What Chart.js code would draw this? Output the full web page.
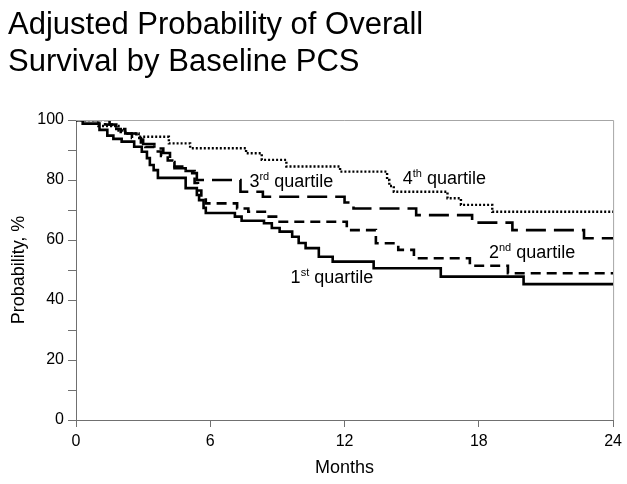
<!DOCTYPE html>
<html>
<head>
<meta charset="utf-8">
<script src="https://cdn.jsdelivr.net/npm/chart.js"></script>
<style>
  html, body { margin:0; padding:0; background:#fff; }
  #wrap { width:627px; height:484px; }
</style>
</head>
<body>
<div id="wrap"><canvas id="km"></canvas></div>
<script>
// Curvas (meses, %)
var q1Months = [0, 0.3, 1.05, 1.4, 1.67, 2.04, 2.6, 2.94, 3.17, 3.3, 3.47, 3.66, 4.9, 5.4, 5.5, 5.7, 5.8, 7.1, 7.4, 8.4, 8.75, 9.1, 9.66, 9.95, 10.26, 10.85, 11.47, 13.3, 16.3, 20.0, 24];
var q1Pct    = [100, 98.8, 96.7, 94.8, 93.7, 92.8, 91.1, 89.4, 87.3, 85, 83.3, 80.7, 77.3, 75, 73.3, 70.7, 69, 67.8, 66.4, 65.6, 64, 62.8, 61.1, 59, 57.3, 54.4, 52.8, 50.6, 47.8, 45.3, 45.3];

var q2Months = [0, 1.3, 1.6, 2.0, 2.5, 2.9, 3.1, 3.5, 3.8, 4.1, 4.4, 4.9, 5.3, 5.45, 5.6, 5.8, 7.2, 7.7, 8.5, 9.0, 12.1, 13.4, 14.4, 15.1, 17.6, 19.3, 24];
var q2Pct    = [100, 98.5, 97, 95.5, 94, 92.5, 91, 89.5, 88, 86.5, 84.5, 83, 79, 76.5, 74, 72.2, 70.5, 69.4, 67.8, 66.1, 63.3, 58.9, 56.7, 53.9, 51.4, 48.9, 48.9];

var q3Months = [0, 1.5, 1.8, 2.2, 2.7, 3.0, 3.5, 3.9, 4.2, 4.4, 4.9, 5.4, 7.35, 8.35, 12.0, 12.4, 15.2, 17.7, 19.5, 22.7, 24];
var q3Pct    = [100, 98.5, 97, 95.5, 93.5, 92, 90.5, 89, 86, 83.9, 82.3, 80, 76.1, 74.4, 72.5, 70.5, 68.3, 65.8, 63.3, 60.6, 60.6];

var q4Months = [0, 1.0, 1.9, 2.2, 2.8, 4.15, 5.1, 7.6, 8.3, 9.4, 11.8, 13.9, 14.0, 14.2, 16.6, 17.2, 18.6, 24];
var q4Pct    = [100, 98, 96.5, 95.5, 94.4, 92.2, 90.6, 88.9, 86.7, 84.5, 82.8, 80, 78, 76.1, 73.9, 71.7, 69.4, 69.4];

// Rótulos das curvas
var labelNum    = ["1", "2", "3", "4"];
var labelSuffix = ["st", "nd", "rd", "th"];
var labelMonth  = [9.59, 18.45, 7.75, 14.6];
var labelPct    = [45.8, 53.9, 77.7, 78.7];

var titleLines = ["Adjusted Probability of Overall", "Survival by Baseline PCS"];

var FONT = "'Liberation Sans', Arial, Helvetica, sans-serif";
var axis_color = "#707070";
var frame_color = "#a6a6a6";

function pts(xs, ys) {
    var out = [];
    for (var i = 0; i < xs.length; i++) out.push({ x: xs[i], y: ys[i] });
    return out;
}

function curve(xs, ys, dash, width) {
    return {
        data: pts(xs, ys),
        borderColor: "#000",
        borderWidth: width,
        borderDash: dash,
        stepped: true,
        fill: false,
        pointRadius: 0,
        tension: 0
    };
}

// moldura (topo e direita)
var framePlugin = {
    id: "frame",
    afterDraw: function (chart) {
        var a = chart.chartArea, ctx = chart.ctx;
        ctx.save();
        ctx.strokeStyle = frame_color;
        ctx.lineWidth = 1;
        ctx.beginPath();
        ctx.moveTo(a.left, a.top + 0.5);
        ctx.lineTo(a.right + 0.5, a.top + 0.5);
        ctx.lineTo(a.right + 0.5, a.bottom);
        ctx.stroke();
        ctx.restore();
    }
};

// textos "1st quartile" etc.
var labelPlugin = {
    id: "qlabels",
    afterDatasetsDraw: function (chart) {
        var ctx = chart.ctx, sx = chart.scales.x, sy = chart.scales.y;
        ctx.save();
        ctx.fillStyle = "#000";
        ctx.textBaseline = "alphabetic";
        ctx.textAlign = "left";
        for (var i = 0; i < labelNum.length; i++) {
            var x = sx.getPixelForValue(labelMonth[i]);
            var y = sy.getPixelForValue(labelPct[i]);
            ctx.font = "18px " + FONT;
            ctx.fillText(labelNum[i], x, y);
            x += ctx.measureText(labelNum[i]).width;
            ctx.font = "11px " + FONT;
            ctx.fillText(labelSuffix[i], x, y - 7);
            x += ctx.measureText(labelSuffix[i]).width;
            ctx.font = "18px " + FONT;
            ctx.fillText(" quartile", x, y);
        }
        ctx.restore();
    }
};

new Chart(document.getElementById("km"), {
    type: "line",
    data: {
        datasets: [
            curve(q1Months, q1Pct, [], 2.6),
            curve(q2Months, q2Pct, [10, 6], 2.6),
            curve(q3Months, q3Pct, [20, 8], 2.6),
            curve(q4Months, q4Pct, [2, 2], 2.4)
        ]
    },
    plugins: [framePlugin, labelPlugin],
    options: {
        responsive: true,
        maintainAspectRatio: false,
        animation: false,
        layout: { padding: { left: 8, right: 8, top: 0, bottom: 0 } },
        plugins: {
            legend: { display: false },
            tooltip: { enabled: false },
            title: {
                display: true,
                text: titleLines,
                align: "start",
                color: "#000",
                font: { family: FONT, size: 31, weight: "normal", lineHeight: 1.2 },
                padding: { top: 7, bottom: 38.6 }
            }
        },
        scales: {
            x: {
                type: "linear",
                min: 0, max: 24,
                afterFit: function (s) { s.height = 64; },
                ticks: { stepSize: 6, color: "#000", padding: 5, font: { family: FONT, size: 16 } },
                grid: { drawOnChartArea: false, drawTicks: true, tickLength: 7, color: axis_color },
                border: { color: axis_color, width: 1 },
                title: { display: true, text: "Months", color: "#000", padding: { top: 0, bottom: 5 }, font: { family: FONT, size: 18 } }
            },
            y: {
                min: 0, max: 100,
                afterFit: function (s) { s.width = 68; },
                ticks: {
                    stepSize: 10, color: "#000", padding: 4, font: { family: FONT, size: 16 },
                    callback: function (v) { return v % 20 === 0 ? v : ""; }
                },
                grid: { drawOnChartArea: false, drawTicks: true, tickLength: 8, color: axis_color },
                border: { color: axis_color, width: 1 },
                title: { display: true, text: "Probability, %", color: "#000", padding: 0, font: { family: FONT, size: 18 } }
            }
        }
    }
});
</script>
</body>
</html>
